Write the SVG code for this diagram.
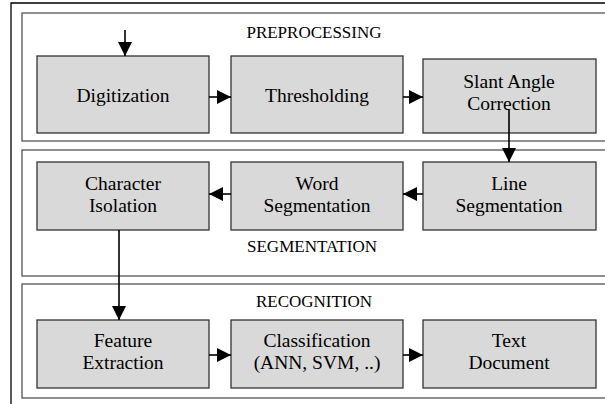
<svg xmlns="http://www.w3.org/2000/svg" width="605" height="404" viewBox="0 0 605 404">
<defs>
<marker id="ah" markerWidth="14" markerHeight="14" refX="14" refY="7" orient="auto" markerUnits="userSpaceOnUse">
<path d="M0,0 L14,7 L0,14 Z" fill="#000"/>
</marker>
<style>
.sec{fill:#fff;stroke:#555;stroke-width:1.3}
.node rect{fill:#d9d9d9;stroke:#333;stroke-width:1.3}
text{font-family:'Liberation Serif','Times New Roman',Times,serif;fill:#000;text-anchor:middle}
.t{font-size:19.5px}
.st{font-size:17px}
.c{stroke:#000;stroke-width:1.6;fill:none;marker-end:url(#ah)}
</style>
</defs>
<rect x="0" y="0" width="605" height="404" fill="#fff"/>
<path d="M11,404 V3 H605" fill="none" stroke="#000" stroke-width="1.3"/>
<g id="preprocessing">
<rect class="sec" x="22" y="13" width="590" height="128"/>
<text class="st" x="314" y="38">PREPROCESSING</text>
</g>
<g id="segmentation">
<rect class="sec" x="22" y="150" width="590" height="126"/>
<text class="st" x="312" y="252">SEGMENTATION</text>
</g>
<g id="recognition">
<rect class="sec" x="22" y="284" width="590" height="114"/>
<text class="st" x="314" y="307">RECOGNITION</text>
</g>
<g id="digitization" class="node">
<rect x="37" y="56" width="172" height="77"/>
<text class="t" x="123" y="102">Digitization</text>
</g>
<g id="thresholding" class="node">
<rect x="231" y="56" width="172" height="77"/>
<text class="t" x="317" y="102">Thresholding</text>
</g>
<g id="slant" class="node">
<rect x="423" y="59" width="173" height="74"/>
<text class="t" x="509" y="88">Slant Angle</text>
<text class="t" x="509" y="110">Correction</text>
</g>
<g id="character" class="node">
<rect x="37" y="162" width="172" height="68"/>
<text class="t" x="123" y="190">Character</text>
<text class="t" x="123" y="212">Isolation</text>
</g>
<g id="word" class="node">
<rect x="231" y="162" width="172" height="68"/>
<text class="t" x="317" y="190">Word</text>
<text class="t" x="317" y="212">Segmentation</text>
</g>
<g id="line" class="node">
<rect x="423" y="162" width="173" height="68"/>
<text class="t" x="509" y="190">Line</text>
<text class="t" x="509" y="212">Segmentation</text>
</g>
<g id="feature" class="node">
<rect x="37" y="320" width="172" height="68"/>
<text class="t" x="123" y="347">Feature</text>
<text class="t" x="123" y="369">Extraction</text>
</g>
<g id="classification" class="node">
<rect x="231" y="320" width="172" height="68"/>
<text class="t" x="317" y="347">Classification</text>
<text class="t" x="317" y="369">(ANN, SVM, ..)</text>
</g>
<g id="textdoc" class="node">
<rect x="423" y="320" width="173" height="68"/>
<text class="t" x="509" y="347">Text</text>
<text class="t" x="509" y="369">Document</text>
</g>
<g id="connectors">
<path class="c" d="M125,30 V56"/>
<path class="c" d="M209,97 H231"/>
<path class="c" d="M403,97 H423"/>
<path class="c" d="M509,110 V162"/>
<path class="c" d="M423,194 H403"/>
<path class="c" d="M231,194 H209"/>
<path class="c" d="M119,230 V320"/>
<path class="c" d="M209,355 H231"/>
<path class="c" d="M403,355 H423"/>
</g>
</svg>
